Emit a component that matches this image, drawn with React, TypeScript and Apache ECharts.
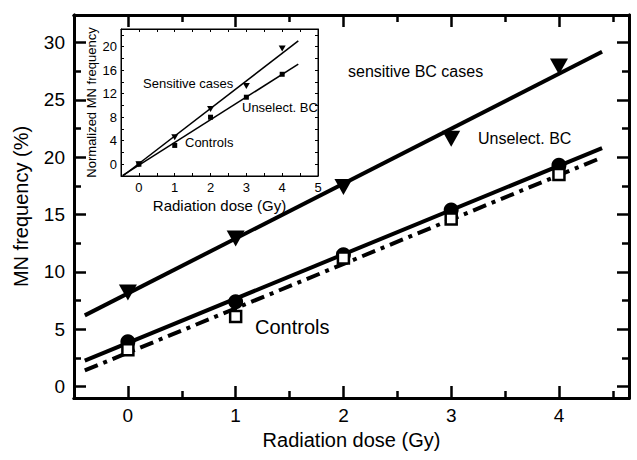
import React, { useEffect, useRef } from "react";
import * as echarts from "echarts";

// ---- Main chart data ----
const DOSES = [0, 1, 2, 3, 4];
const SENSITIVE_BC = [8.2, 12.9, 17.4, 21.6, 27.9];
const UNSELECTED_BC = [3.9, 7.4, 11.5, 15.4, 19.3];
const CONTROLS = [3.2, 6.1, 11.2, 14.6, 18.5];
// fit lines: [intercept, slope]
const FIT_X = [-0.4, 4.4];
const SENSITIVE_FIT = [8.12, 4.79];
const UNSELECTED_FIT = [3.81, 3.86];
const CONTROLS_FIT = [2.95, 3.87];

// ---- Inset data ----
const INSET_SENSITIVE = [0, 4.6, 9.4, 13.3, 19.7];
const INSET_UNSELECTED = [0, 3.2, 8.0, 11.4, 15.3];
const INSET_FIT_X = [-0.45, 4.45];
const INSET_SENSITIVE_FIT = [0.11, 4.69];
const INSET_UNSELECTED_FIT = [-0.16, 3.86];

// ---- Ticks ----
const MAIN_X_MAJOR = [0, 1, 2, 3, 4];
const MAIN_X_MINOR = [0.5, 1.5, 2.5, 3.5, 4.5];
const MAIN_Y_MAJOR = [0, 5, 10, 15, 20, 25, 30];
const MAIN_Y_MINOR = [2.5, 7.5, 12.5, 17.5, 22.5, 27.5];
const INSET_X_LABELS = [0, 1, 2, 3, 4, 5];
const INSET_Y_LABELS = [0, 4, 8, 12, 16, 20];

const FONT = "'Liberation Sans', Arial, sans-serif";

const fitLine = (fit: number[], xs: number[]) => xs.map((x) => [x, fit[0] + fit[1] * x]);
const pts = (ys: number[]) => DOSES.map((x, i) => [x, ys[i]]);

export default function App() {
  const ref = useRef<HTMLDivElement>(null);
  useEffect(() => {
    if (!ref.current) return;
    const chart = echarts.init(ref.current, null, { renderer: "svg" });

    const mainX = { min: -0.5, max: 4.65, type: "value" as const, gridIndex: 0, splitLine: { show: false } };
    const mainY = { min: -1, max: 32.4, type: "value" as const, gridIndex: 0, splitLine: { show: false } };
    const insetX = { min: -0.5, max: 5, interval: 0.5, type: "value" as const, gridIndex: 1, splitLine: { show: false } };
    const insetY = { min: -2, max: 23, interval: 2, type: "value" as const, gridIndex: 1, splitLine: { show: false } };
    const frame = { show: true, onZero: false, lineStyle: { color: "#000", width: 3 } };
    const thin = { show: true, onZero: false, lineStyle: { color: "#000", width: 1 } };
    const noLabel = { show: false };
    const tickStyle = { width: 2.5, color: "#000" };
    const thinTick = { width: 1, color: "#000" };

    const option: any = {
      animation: false,
      textStyle: { fontFamily: FONT },
      grid: [
        { left: 74, top: 15, width: 555, height: 383, show: false },
        { left: 121, top: 29, width: 197, height: 147, show: true, backgroundColor: "#fff", borderColor: "#000", borderWidth: 1, z: 5 },
      ],
      xAxis: [
        {
          ...mainX, position: "bottom", axisLine: frame,
          axisTick: { inside: true, length: 12, customValues: MAIN_X_MAJOR, lineStyle: tickStyle },
          axisLabel: { customValues: MAIN_X_MAJOR, fontSize: 19, color: "#000", margin: 8, fontFamily: FONT },
          name: "Radiation dose (Gy)", nameLocation: "middle", nameGap: 30,
          nameTextStyle: { fontSize: 20, color: "#000", fontFamily: FONT },
        },
        { ...mainX, position: "bottom", axisLine: frame, axisLabel: noLabel,
          axisTick: { inside: true, length: 7, customValues: MAIN_X_MINOR, lineStyle: tickStyle } },
        { ...mainX, position: "top", axisLine: frame, axisLabel: noLabel,
          axisTick: { inside: true, length: 12, customValues: MAIN_X_MAJOR, lineStyle: tickStyle } },
        { ...mainX, position: "top", axisLine: frame, axisLabel: noLabel,
          axisTick: { inside: true, length: 7, customValues: MAIN_X_MINOR, lineStyle: tickStyle } },
        {
          ...insetX, position: "bottom", axisLine: thin,
          axisTick: { inside: true, length: 3, lineStyle: thinTick },
          axisLabel: { customValues: INSET_X_LABELS, fontSize: 13, color: "#000", margin: 5, fontFamily: FONT },
          name: "Radiation dose (Gy)", nameLocation: "middle", nameGap: 22,
          nameTextStyle: { fontSize: 15, color: "#000", fontFamily: FONT },
          z: 6,
        },
        { ...insetX, position: "top", axisLine: thin, axisLabel: noLabel,
          axisTick: { inside: true, length: 3, lineStyle: thinTick }, z: 6 },
      ],
      yAxis: [
        {
          ...mainY, position: "left", axisLine: frame,
          axisTick: { inside: true, length: 12, customValues: MAIN_Y_MAJOR, lineStyle: tickStyle },
          axisLabel: { customValues: MAIN_Y_MAJOR, fontSize: 19, color: "#000", margin: 9, fontFamily: FONT },
          name: "MN frequency (%)", nameLocation: "middle", nameGap: 43,
          nameTextStyle: { fontSize: 20, color: "#000", fontFamily: FONT },
        },
        { ...mainY, position: "left", axisLine: frame, axisLabel: noLabel,
          axisTick: { inside: true, length: 7, customValues: MAIN_Y_MINOR, lineStyle: tickStyle } },
        { ...mainY, position: "right", axisLine: frame, axisLabel: noLabel,
          axisTick: { inside: true, length: 12, customValues: MAIN_Y_MAJOR, lineStyle: tickStyle } },
        { ...mainY, position: "right", axisLine: frame, axisLabel: noLabel,
          axisTick: { inside: true, length: 7, customValues: MAIN_Y_MINOR, lineStyle: tickStyle } },
        {
          ...insetY, position: "left", axisLine: thin,
          axisTick: { inside: true, length: 3, lineStyle: thinTick },
          axisLabel: { customValues: INSET_Y_LABELS, fontSize: 13, color: "#000", margin: 4, fontFamily: FONT },
          name: "Normalized MN frequency", nameLocation: "middle", nameGap: 23,
          nameTextStyle: { fontSize: 13, color: "#000", fontFamily: FONT },
          z: 6,
        },
        { ...insetY, position: "right", axisLine: thin, axisLabel: noLabel,
          axisTick: { inside: true, length: 3, lineStyle: thinTick }, z: 6 },
      ],
      series: [
        { type: "line", xAxisIndex: 0, yAxisIndex: 0, data: fitLine(SENSITIVE_FIT, FIT_X), showSymbol: false,
          lineStyle: { color: "#000", width: 4 }, z: 2 },
        { type: "line", xAxisIndex: 0, yAxisIndex: 0, data: fitLine(UNSELECTED_FIT, FIT_X), showSymbol: false,
          lineStyle: { color: "#000", width: 4 }, z: 2 },
        { type: "line", xAxisIndex: 0, yAxisIndex: 0, data: fitLine(CONTROLS_FIT, FIT_X), showSymbol: false,
          lineStyle: { color: "#000", width: 4, type: [14, 6, 4, 6], cap: "butt" }, z: 2 },
        { type: "scatter", xAxisIndex: 0, yAxisIndex: 0, data: pts(UNSELECTED_BC), symbol: "circle", symbolSize: 15,
          itemStyle: { color: "#000", opacity: 1 }, z: 3 },
        { type: "scatter", xAxisIndex: 0, yAxisIndex: 0, data: pts(CONTROLS), symbol: "rect", symbolSize: 11,
          itemStyle: { color: "#fff", borderColor: "#000", borderWidth: 2.5, opacity: 1 }, z: 4 },
        { type: "scatter", xAxisIndex: 0, yAxisIndex: 0, data: pts(SENSITIVE_BC), symbol: "triangle", symbolSize: [18, 16],
          symbolRotate: 180, itemStyle: { color: "#000", opacity: 1 }, z: 3 },
        // inset
        { type: "line", xAxisIndex: 4, yAxisIndex: 4, data: fitLine(INSET_SENSITIVE_FIT, INSET_FIT_X), showSymbol: false,
          lineStyle: { color: "#000", width: 1.5 }, z: 7 },
        { type: "line", xAxisIndex: 4, yAxisIndex: 4, data: fitLine(INSET_UNSELECTED_FIT, INSET_FIT_X), showSymbol: false,
          lineStyle: { color: "#000", width: 1.5 }, z: 7 },
        { type: "scatter", xAxisIndex: 4, yAxisIndex: 4, data: pts(INSET_SENSITIVE), symbol: "triangle", symbolSize: [7, 6],
          symbolRotate: 180, itemStyle: { color: "#000", opacity: 1 }, z: 8 },
        { type: "scatter", xAxisIndex: 4, yAxisIndex: 4, data: pts(INSET_UNSELECTED), symbol: "rect", symbolSize: 5,
          itemStyle: { color: "#000", opacity: 1 }, z: 8 },
      ],
      graphic: [
        { type: "text", left: 348, top: 63, z: 10, style: { text: "sensitive BC cases", fontSize: 16, fill: "#000", fontFamily: FONT } },
        { type: "text", left: 478, top: 130, z: 10, style: { text: "Unselect. BC", fontSize: 16, fill: "#000", fontFamily: FONT } },
        { type: "text", left: 255, top: 317, z: 10, style: { text: "Controls", fontSize: 20, fill: "#000", fontFamily: FONT } },
        { type: "text", left: 143, top: 77, z: 10, style: { text: "Sensitive cases", fontSize: 13, fill: "#000", fontFamily: FONT } },
        { type: "text", left: 242, top: 101, z: 10, style: { text: "Unselect. BC", fontSize: 13, fill: "#000", fontFamily: FONT } },
        { type: "text", left: 185, top: 136, z: 10, style: { text: "Controls", fontSize: 13, fill: "#000", fontFamily: FONT } },
      ],
    };
    chart.setOption(option);
    return () => chart.dispose();
  }, []);
  return <div ref={ref} style={{ position: "fixed", left: 0, top: 0, width: 637, height: 460, background: "#fff" }} />;
}
